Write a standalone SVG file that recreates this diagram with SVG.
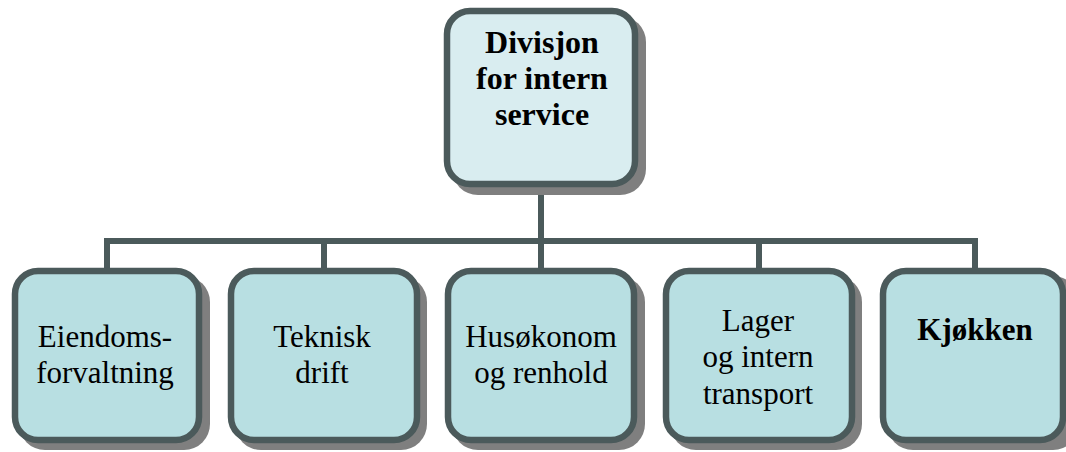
<svg xmlns="http://www.w3.org/2000/svg" width="1066" height="452" viewBox="0 0 1066 452">
  <style>
    .shadow { fill: #7f7f7f; }
    .box { stroke: #4b5a5b; stroke-width: 6.5; }
    .top { fill: #d9edf0; }
    .unit { fill: #b8dfe2; }
    .line { stroke: #4b5a5b; stroke-width: 6; fill: none; }
    text { font-size: 31px; fill: #000; text-anchor: middle; }
    .bold { font-weight: bold; }
    .head { font-size: 32px; }
  </style>

  <!-- connectors -->
  <g id="connectors">
    <path class="line" d="M541 187 V268"/>
    <path class="line" d="M107 268 V241 H975 V268"/>
    <path class="line" d="M324 241 V268"/>
    <path class="line" d="M759 241 V268"/>
  </g>

  <g font-family="'Liberation Serif', Tinos, 'DejaVu Serif', serif">
  <!-- top level -->
  <g id="divisjon">
    <rect class="shadow" x="452" y="16" width="194" height="179" rx="26"/>
    <rect class="box top" x="447" y="11" width="188" height="173" rx="23"/>
    <text class="bold head" x="542" y="53">Divisjon</text>
    <text class="bold head" x="542" y="89">for intern</text>
    <text class="bold head" x="542" y="125">service</text>
  </g>

  <!-- units -->
  <g id="eiendomsforvaltning">
    <rect class="shadow" x="19" y="276" width="191" height="174" rx="26"/>
    <rect class="box unit" x="15" y="271" width="184" height="169" rx="23"/>
    <text x="105" y="347">Eiendoms-</text>
    <text x="105" y="383">forvaltning</text>
  </g>

  <g id="teknisk-drift">
    <rect class="shadow" x="235" y="276" width="192" height="174" rx="26"/>
    <rect class="box unit" x="231" y="271" width="186" height="169" rx="23"/>
    <text x="322" y="347">Teknisk</text>
    <text x="322" y="383">drift</text>
  </g>

  <g id="husokonom">
    <rect class="shadow" x="452" y="276" width="193" height="174" rx="26"/>
    <rect class="box unit" x="448" y="271" width="186" height="169" rx="23"/>
    <text x="541" y="347">Husøkonom</text>
    <text x="541" y="383">og renhold</text>
  </g>

  <g id="lager">
    <rect class="shadow" x="670" y="276" width="192" height="174" rx="26"/>
    <rect class="box unit" x="666" y="271" width="186" height="169" rx="23"/>
    <text x="758" y="331">Lager</text>
    <text x="758" y="367">og intern</text>
    <text x="758" y="404">transport</text>
  </g>

  <g id="kjokken">
    <rect class="shadow" x="887" y="276" width="192" height="174" rx="26"/>
    <rect class="box unit" x="883" y="271" width="180" height="169" rx="23"/>
    <text class="bold" x="975" y="340">Kjøkken</text>
  </g>
  </g>
</svg>
